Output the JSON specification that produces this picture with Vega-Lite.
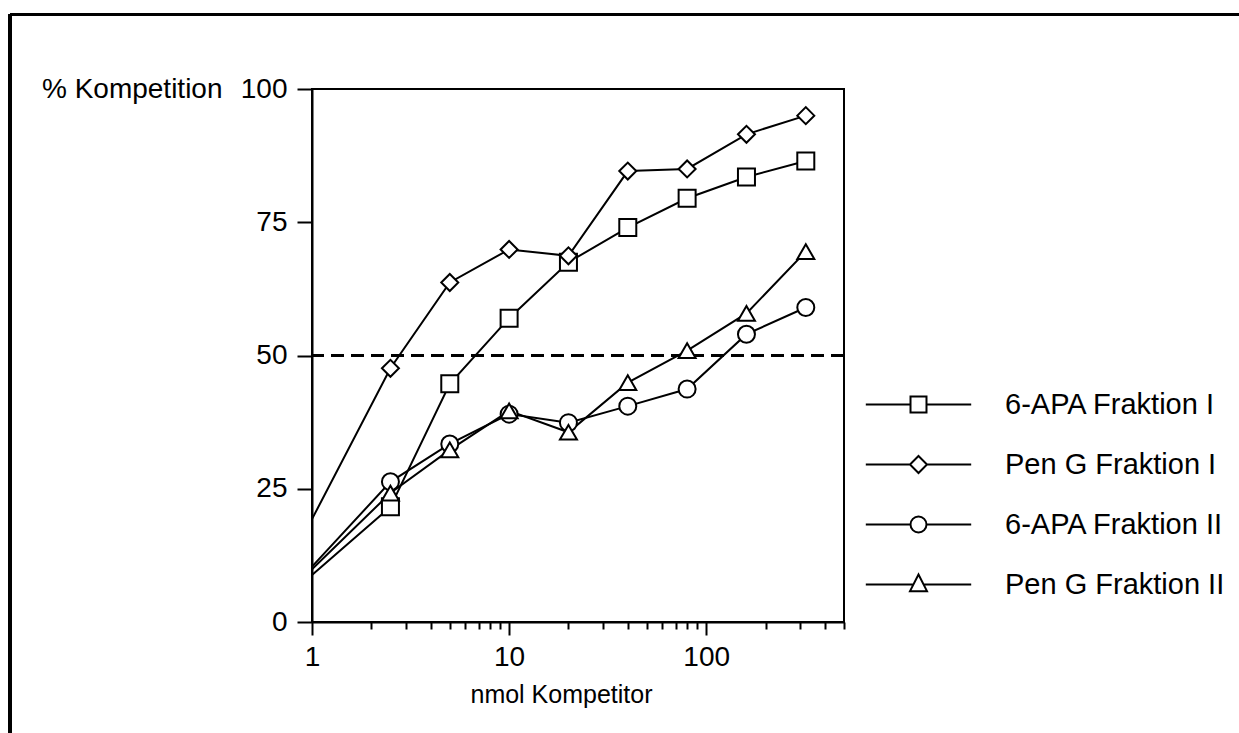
{
  "$schema": "https://vega.github.io/schema/vega-lite/v6.json",
  "width": 532,
  "height": 533,
  "autosize": {"type": "none"},
  "padding": {"left": 312, "top": 89, "right": 395, "bottom": 111},
  "background": "white",
  "config": {
    "font": "Liberation Sans",
    "view": {"stroke": "black", "strokeWidth": 2},
    "axis": {
      "domainColor": "black", "domainWidth": 2, "tickColor": "black", "tickWidth": 2,
      "labelColor": "black", "titleColor": "black", "labelFontSize": 28, "titleFontSize": 28,
      "titleFontWeight": "normal", "grid": false, "labelFont": "Liberation Sans", "titleFont": "Liberation Sans"
    }
  },
  "data": {
    "values": [
      {"x": 1, "y": 8.8, "s": "6-APA Fraktion I"},
      {"x": 2.5, "y": 21.6, "s": "6-APA Fraktion I"},
      {"x": 5, "y": 44.7, "s": "6-APA Fraktion I"},
      {"x": 10, "y": 57.0, "s": "6-APA Fraktion I"},
      {"x": 20, "y": 67.5, "s": "6-APA Fraktion I"},
      {"x": 40, "y": 74.0, "s": "6-APA Fraktion I"},
      {"x": 80, "y": 79.5, "s": "6-APA Fraktion I"},
      {"x": 160, "y": 83.5, "s": "6-APA Fraktion I"},
      {"x": 320, "y": 86.5, "s": "6-APA Fraktion I"},
      {"x": 1, "y": 19.3, "s": "Pen G Fraktion I"},
      {"x": 2.5, "y": 47.6, "s": "Pen G Fraktion I"},
      {"x": 5, "y": 63.7, "s": "Pen G Fraktion I"},
      {"x": 10, "y": 69.9, "s": "Pen G Fraktion I"},
      {"x": 20, "y": 68.7, "s": "Pen G Fraktion I"},
      {"x": 40, "y": 84.6, "s": "Pen G Fraktion I"},
      {"x": 80, "y": 85.0, "s": "Pen G Fraktion I"},
      {"x": 160, "y": 91.5, "s": "Pen G Fraktion I"},
      {"x": 320, "y": 95.0, "s": "Pen G Fraktion I"},
      {"x": 1, "y": 10.4, "s": "6-APA Fraktion II"},
      {"x": 2.5, "y": 26.3, "s": "6-APA Fraktion II"},
      {"x": 5, "y": 33.4, "s": "6-APA Fraktion II"},
      {"x": 10, "y": 39.0, "s": "6-APA Fraktion II"},
      {"x": 20, "y": 37.4, "s": "6-APA Fraktion II"},
      {"x": 40, "y": 40.5, "s": "6-APA Fraktion II"},
      {"x": 80, "y": 43.7, "s": "6-APA Fraktion II"},
      {"x": 160, "y": 54.0, "s": "6-APA Fraktion II"},
      {"x": 320, "y": 59.0, "s": "6-APA Fraktion II"},
      {"x": 1, "y": 9.9, "s": "Pen G Fraktion II"},
      {"x": 2.5, "y": 24.2, "s": "Pen G Fraktion II"},
      {"x": 5, "y": 32.3, "s": "Pen G Fraktion II"},
      {"x": 10, "y": 39.6, "s": "Pen G Fraktion II"},
      {"x": 20, "y": 35.6, "s": "Pen G Fraktion II"},
      {"x": 40, "y": 44.9, "s": "Pen G Fraktion II"},
      {"x": 80, "y": 50.9, "s": "Pen G Fraktion II"},
      {"x": 160, "y": 57.9, "s": "Pen G Fraktion II"},
      {"x": 320, "y": 69.5, "s": "Pen G Fraktion II"}
    ]
  },
  "layer": [
    {
      "mark": {"type": "rule", "color": "black", "strokeWidth": 2.5, "clip": false},
      "encoding": {
        "x": {"datum": 0.0294, "type": "quantitative"},
        "x2": {"datum": 60000},
        "y": {"datum": 114, "type": "quantitative"}
      }
    },
    {
      "mark": {"type": "rule", "color": "black", "strokeWidth": 2.5, "clip": false},
      "encoding": {
        "x": {"datum": 0.0294, "type": "quantitative"},
        "y": {"datum": 114, "type": "quantitative"},
        "y2": {"datum": -30}
      }
    },
    {
      "mark": {"type": "rule", "color": "black", "strokeWidth": 2, "strokeDash": [13, 7]},
      "encoding": {"y": {"datum": 50, "type": "quantitative"}}
    },
    {
      "mark": {"type": "line", "color": "black", "strokeWidth": 2},
      "encoding": {
        "x": {
          "field": "x", "type": "quantitative",
          "scale": {"type": "log", "domain": [1, 500], "nice": false},
          "axis": {
            "title": "nmol Kompetitor",
            "titleFontSize": 25,
            "values": [1, 2, 3, 4, 5, 6, 7, 8, 9, 10, 20, 30, 40, 50, 60, 70, 80, 90, 100, 200, 300, 400, 500],
            "labelExpr": "datum.value == 1 || datum.value == 10 || datum.value == 100 ? datum.label : ''",
            "tickSize": {"condition": {"test": "datum.value == 1 || datum.value == 10 || datum.value == 100", "value": 13}, "value": 7},
            "labelPadding": 8,
            "labelFlush": false,
            "labelOverlap": false,
            "titleX": 249,
            "titleY": 80,
            "titleAlign": "center",
            "titleBaseline": "alphabetic"
          }
        },
        "y": {
          "field": "y", "type": "quantitative",
          "scale": {"domain": [0, 100], "nice": false, "zero": false},
          "axis": {
            "title": "% Kompetition",
            "values": [0, 25, 50, 75, 100],
            "tickSize": 15,
            "labelPadding": 10,
            "labelFlush": false,
            "titleAngle": 0,
            "titleAlign": "right",
            "titleBaseline": "middle",
            "titleX": -90,
            "titleY": 0
          }
        },
        "detail": {"field": "s"},
        "order": {"field": "x", "type": "quantitative"}
      }
    },
    {
      "transform": [{"filter": "datum.x > 1"}],
      "mark": {"type": "point", "filled": true, "fill": "white", "stroke": "black", "strokeWidth": 2, "size": 289, "opacity": 1},
      "encoding": {
        "x": {"field": "x", "type": "quantitative"},
        "y": {"field": "y", "type": "quantitative"},
        "shape": {
          "field": "s", "type": "nominal",
          "scale": {"domain": ["6-APA Fraktion I", "Pen G Fraktion I", "6-APA Fraktion II", "Pen G Fraktion II"], "range": ["square", "diamond", "circle", "triangle-up"]},
          "legend": null
        }
      }
    },
    {
      "transform": [{"filter": "datum.x > 100000"}],
      "mark": {"type": "point", "filled": false, "color": "black", "strokeWidth": 2, "size": 289},
      "encoding": {
        "x": {"field": "x", "type": "quantitative"},
        "y": {"field": "y", "type": "quantitative"},
        "shape": {
          "field": "s", "type": "nominal",
          "scale": {
            "domain": ["6-APA Fraktion I", "Pen G Fraktion I", "6-APA Fraktion II", "Pen G Fraktion II"],
            "range": [
              "M-6.2,0H-0.94M0.94,0H6.2M-0.94,-0.94H0.94V0.94H-0.94Z",
              "M-6.2,0H-1M1,0H6.2M0,-1L1,0L0,1L-1,0Z",
              "M-6.2,0H-0.94M0.94,0H6.2M-0.94,0A0.94,0.94,0,1,0,0.94,0A0.94,0.94,0,1,0,-0.94,0Z",
              "M-6.2,0H-0.6M0.6,0H6.2M0,-1.18L1,0.78L-1,0.78Z"
            ]
          },
          "legend": {
            "title": null,
            "orient": "none",
            "legendX": 592,
            "legendY": 301,
            "padding": 0,
            "symbolSize": 289,
            "symbolStrokeWidth": 2,
            "symbolStrokeColor": "black",
            "symbolOpacity": 1,
            "labelFontSize": 29,
            "labelFont": "Liberation Sans",
            "labelColor": "black",
            "labelOffset": 72,
            "labelLimit": 400,
            "rowPadding": 30
          }
        }
      }
    }
  ],
  "resolve": {"scale": {"shape": "independent"}, "legend": {"shape": "independent"}}
}
